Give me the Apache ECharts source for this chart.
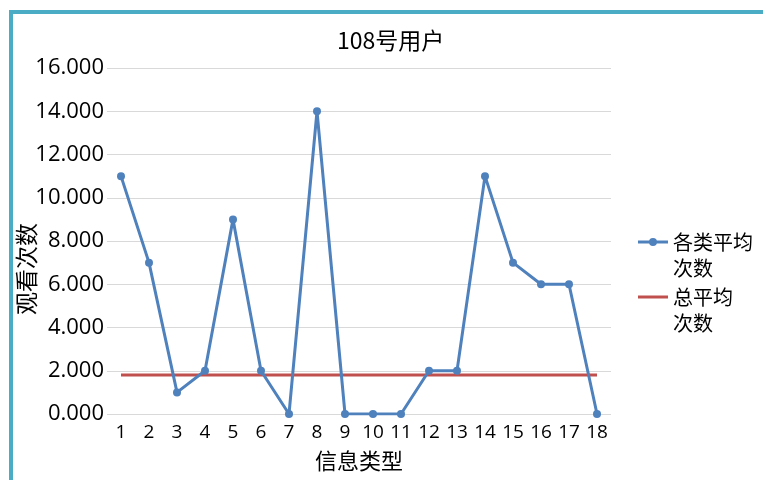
<!DOCTYPE html>
<html><head><meta charset="utf-8">
<script src="https://cdn.jsdelivr.net/npm/echarts@6/dist/echarts.min.js"></script>
<style>html,body{margin:0;padding:0;background:#fff}#c{width:763px;height:480px}</style>
</head><body><div id="c"></div>
<script>
const categories = ['1','2','3','4','5','6','7','8','9','10','11','12','13','14','15','16','17','18'];
const typeAvg = [11,7,1,2,9,2,0,14,0,0,0,2,2,11,7,6,6,0];
const overallAvg = [1.8,1.8,1.8,1.8,1.8,1.8,1.8,1.8,1.8,1.8,1.8,1.8,1.8,1.8,1.8,1.8,1.8,1.8];
const seriesNames = ['各类平均\n次数','总平均\n次数'];
const chart = echarts.init(document.getElementById('c'));
const font = '"Noto Sans CJK SC","Noto Sans",sans-serif';
const numFont = '"Open Sans",sans-serif';
const iconLineDot = 'path://M0,0 L0,0 M0,11.5 L30,11.5 L30,14.5 L0,14.5 Z M11,13 A4,4 0 1,1 19,13 A4,4 0 1,1 11,13 Z M0,52 L0,52';
const iconLine = 'path://M0,0 L0,0 M0,11.5 L30,11.5 L30,14.5 L0,14.5 Z M0,52 L0,52';
chart.setOption({
  animation:false,
  textStyle:{fontFamily:font},
  graphic:[{type:'polyline',shape:{points:[[11,490],[11,12],[770,12]]},style:{stroke:'#4bacc6',lineWidth:4,fill:null}}],
  title:{text:'108号用户',left:332,top:24,textStyle:{fontSize:23,fontWeight:'normal',color:'#000',fontFamily:font}},
  legend:{orient:'vertical',left:633,top:224,itemWidth:30,itemHeight:52,itemGap:3,symbolKeepAspect:false,
    textStyle:{fontSize:20,color:'#000',lineHeight:26,fontFamily:font},
    data:[{name:seriesNames[0],icon:iconLineDot},{name:seriesNames[1],icon:iconLine}]},
  grid:{left:107,right:152,top:68,bottom:66,outerBoundsMode:'none',containLabel:false},
  xAxis:{type:'category',data:categories,boundaryGap:true,
    name:'信息类型',nameLocation:'middle',nameGap:36,nameMoveOverlap:false,nameTextStyle:{fontSize:22,color:'#000',fontFamily:font},
    axisLine:{show:false},axisTick:{show:false},
    axisLabel:{fontSize:19,color:'#000',margin:9,interval:0,fontFamily:numFont}},
  yAxis:{type:'value',min:0,max:16,interval:2,
    name:'观看次数',nameLocation:'middle',nameGap:69,nameRotate:90,nameMoveOverlap:false,
    nameTextStyle:{fontSize:23,color:'#000',fontFamily:font,padding:[0,56,0,0]},
    axisLine:{show:false},axisTick:{show:false},
    splitLine:{lineStyle:{color:'#d9d9d9',width:1}},
    axisLabel:{fontSize:22,color:'#000',margin:3,fontFamily:numFont,formatter:v=>v.toFixed(3)}},
  series:[
    {name:seriesNames[0],type:'line',data:typeAvg,symbol:'circle',symbolSize:8,
      lineStyle:{color:'#4f81bd',width:3},itemStyle:{color:'#4f81bd'},z:3},
    {name:seriesNames[1],type:'line',data:overallAvg,symbol:'none',showSymbol:false,
      lineStyle:{color:'#c0504d',width:3},itemStyle:{color:'#c0504d'},z:2}
  ]
});
</script></body></html>
